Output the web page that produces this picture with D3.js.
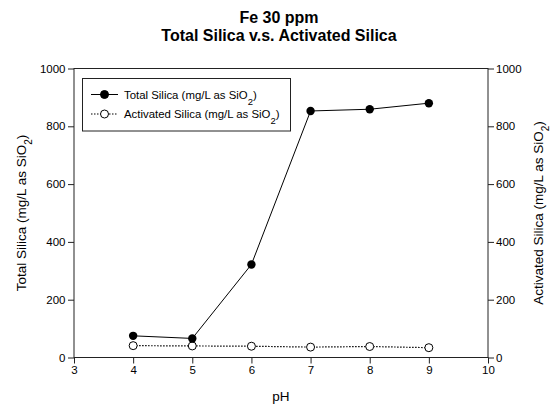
<!DOCTYPE html>
<html>
<head>
<meta charset="utf-8">
<script src="https://cdn.jsdelivr.net/npm/d3@7"></script>
<style>
  body { margin: 0; background: #fff; }
  text { font-family: "Liberation Sans", Arial, sans-serif; fill: #000; }
</style>
</head>
<body>
<svg id="chart" width="551" height="405"></svg>
<script>
// data
const phValues = [4, 5, 6, 7, 8, 9];
const totalSilica = [75, 66, 322, 853, 859, 880];
const activatedSilica = [41, 40, 39, 36, 38, 34];
const xTicks = [3, 4, 5, 6, 7, 8, 9, 10];
const yTicks = [0, 200, 400, 600, 800, 1000];

const svg = d3.select("#chart");
const plotLeft = 74, plotRight = 488, plotTop = 68.5, plotBottom = 357.5;

const x = d3.scaleLinear().domain([3, 10]).range([plotLeft, plotRight]);
const y = d3.scaleLinear().domain([0, 1000]).range([plotBottom, plotTop]);

// title
svg.append("text").attr("x", 279).attr("y", 22.5).attr("text-anchor", "middle")
  .style("font-size", "16px").style("font-weight", "bold").text("Fe 30 ppm");
svg.append("text").attr("x", 279).attr("y", 40.5).attr("text-anchor", "middle")
  .style("font-size", "16px").style("font-weight", "bold").text("Total Silica v.s. Activated Silica");

// frame
svg.append("rect").attr("x", plotLeft).attr("y", plotTop)
  .attr("width", plotRight - plotLeft).attr("height", plotBottom - plotTop)
  .attr("fill", "none").attr("stroke", "#222").attr("stroke-width", 1);

const styleAxis = g => {
  g.select(".domain").remove();
  g.selectAll("line").attr("stroke", "#222");
  g.selectAll("text").style("font-size", "11.5px").style("font-family", "Liberation Sans, Arial, sans-serif");
};

svg.append("g").attr("transform", `translate(0,${plotBottom})`)
  .call(d3.axisBottom(x).tickValues(xTicks).tickSize(6).tickPadding(2.5).tickFormat(d3.format("d")))
  .call(styleAxis);
svg.append("g").attr("transform", `translate(${plotLeft},0)`)
  .call(d3.axisLeft(y).tickValues(yTicks).tickSize(6).tickPadding(2.5).tickFormat(d3.format("d")))
  .call(styleAxis);
svg.append("g").attr("transform", `translate(${plotRight},0)`)
  .call(d3.axisRight(y).tickValues(yTicks).tickSize(6).tickPadding(2).tickFormat(d3.format("d")))
  .call(styleAxis);

// axis titles
svg.append("text").attr("x", 281).attr("y", 401).attr("text-anchor", "middle")
  .style("font-size", "13.5px").text("pH");

function siTitle(sel, label, subSize) {
  sel.append("tspan").text(label + " (mg/L as SiO");
  sel.append("tspan").attr("baseline-shift", "sub").style("font-size", subSize).text("2");
  sel.append("tspan").text(")");
}
svg.append("text").attr("transform", `translate(25.5,${(plotTop + plotBottom) / 2}) rotate(-90)`)
  .attr("text-anchor", "middle").style("font-size", "13.5px").call(siTitle, "Total Silica", "10px");
svg.append("text").attr("transform", `translate(543,${(plotTop + plotBottom) / 2}) rotate(-90)`)
  .attr("text-anchor", "middle").style("font-size", "13.5px").call(siTitle, "Activated Silica", "10px");

const line = d3.line().x(d => x(d[0])).y(d => y(d[1]));
const totalPts = phValues.map((p, i) => [p, totalSilica[i]]);
const activePts = phValues.map((p, i) => [p, activatedSilica[i]]);

svg.append("path").datum(activePts).attr("d", line)
  .attr("fill", "none").attr("stroke", "#000").attr("stroke-width", 1.2).attr("stroke-dasharray", "1.5,1.5");
svg.append("path").datum(totalPts).attr("d", line)
  .attr("fill", "none").attr("stroke", "#000").attr("stroke-width", 1);

svg.append("g").selectAll("circle").data(activePts).enter().append("circle")
  .attr("cx", d => x(d[0])).attr("cy", d => y(d[1])).attr("r", 4)
  .attr("fill", "#fff").attr("stroke", "#000").attr("stroke-width", 1);
svg.append("g").selectAll("circle").data(totalPts).enter().append("circle")
  .attr("cx", d => x(d[0])).attr("cy", d => y(d[1])).attr("r", 4.2)
  .attr("fill", "#000");

// legend
const legend = svg.append("g");
legend.append("rect").attr("x", 82.5).attr("y", 78.5).attr("width", 208).attr("height", 52.5)
  .attr("fill", "#fff").attr("stroke", "#222").attr("stroke-width", 1);
const rows = [
  { label: "Total Silica", y: 94.5, dash: null, fill: "#000" },
  { label: "Activated Silica", y: 114, dash: "1.5,1.5", fill: "#fff" }
];
rows.forEach(r => {
  legend.append("line").attr("x1", 91).attr("x2", 118).attr("y1", r.y).attr("y2", r.y)
    .attr("stroke", "#000").attr("stroke-width", r.dash ? 1.2 : 1).attr("stroke-dasharray", r.dash);
  legend.append("circle").attr("cx", 104.5).attr("cy", r.y).attr("r", 4)
    .attr("fill", r.fill).attr("stroke", "#000");
  legend.append("text").attr("x", 124).attr("y", r.y + 4).style("font-size", "11.4px").call(siTitle, r.label, "9.5px");
});
</script>
</body>
</html>
